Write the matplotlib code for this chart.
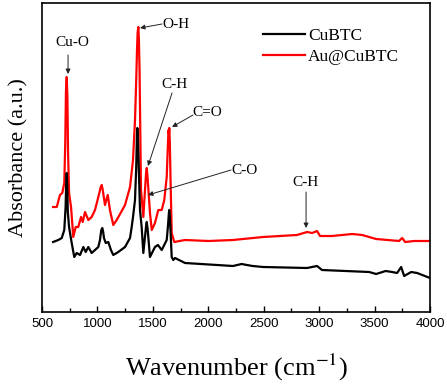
import matplotlib
matplotlib.use("Agg")
import matplotlib.pyplot as plt
from matplotlib.ticker import MultipleLocator

plt.rcParams['mathtext.fontset'] = 'stix'

# Au@CuBTC (red)
wn_red = [600, 633, 662, 683, 701, 710, 716, 723, 729, 735, 744, 762, 782, 804, 827, 852, 867, 888, 918,
          948, 978, 1008, 1030, 1039, 1048, 1068, 1093, 1113, 1143, 1174, 1249, 1294, 1321, 1339,
          1350, 1357, 1363, 1369, 1374, 1380, 1393, 1414, 1438, 1445, 1452, 1474, 1490, 1519, 1549, 1580, 1603, 1625,
          1636, 1641, 1645, 1648, 1653, 1660, 1670, 1693, 1790, 2000, 2223, 2494, 2800, 2891, 2936, 2960, 2981, 3008,
          3117, 3298, 3388, 3514, 3721, 3749, 3776, 3857, 4000]
abs_red = [105, 105, 117, 119, 129, 170, 220, 235, 215, 160, 119, 105, 75, 85, 85, 95, 90, 100, 92,
           95, 102, 115, 125, 127, 122, 107, 117, 102, 87, 92, 107, 125, 152, 192,
           232, 262, 280, 285, 272, 242, 122, 95, 138, 144, 135, 99, 82, 89, 102, 102, 112, 135,
           168, 182, 178, 184, 170, 130, 79, 70, 72, 71, 72, 75, 77, 80, 79, 80, 81, 76,
           76, 78, 77, 73, 71, 74, 70, 71, 71]

# CuBTC (black)
wn_blk = [600, 647, 678, 701, 713, 718, 723, 728, 733, 744, 768, 791, 813, 843, 873, 894, 918,
          948, 978, 1008, 1023, 1035, 1044, 1052, 1059, 1075, 1098, 1122, 1143, 1188, 1249, 1294,
          1309, 1321, 1339, 1350, 1356, 1360, 1365, 1371, 1384, 1399, 1414, 1440, 1445, 1452, 1474, 1519, 1546,
          1580, 1625, 1637, 1644, 1648, 1653, 1659, 1670, 1684, 1700, 1790, 2223, 2300, 2349, 2400, 2494, 2891,
          2981, 3026, 3451, 3514, 3600, 3658, 3703, 3740, 3767, 3830, 3884, 4000]
abs_blk = [70, 72, 74, 82, 105, 128, 139, 125, 100, 85, 69, 55, 59, 57, 65, 60, 65,
           59, 62, 65, 72, 82, 84, 80, 74, 69, 70, 62, 57, 60, 65, 74,
           85, 95, 112, 145, 176, 184, 176, 152, 102, 85, 59, 87, 90, 84, 55, 65, 67,
           62, 72, 87, 98, 102, 96, 82, 55, 52, 54, 49, 46, 48, 47, 46, 45, 44,
           46, 42, 40, 38, 41, 40, 39, 45, 36, 40, 39, 34]

labels = ["CuBTC", "Au@CuBTC"]
xticks = [500, 1000, 1500, 2000, 2500, 3000, 3500, 4000]

# annotation: text, text position, arrow start, arrow tip
annots = [
    ("Cu-O", (771, 270), (735, 257), (735, 238)),
    ("O-H", (1709, 288), (1583, 288), (1384, 284)),
    ("C-H", (1691, 227), (1673, 219), (1456, 146)),
    ("C=O", (1989, 199), (1862, 197), (1673, 185)),
    ("C-O", (2331, 141), (2205, 142), (1456, 117)),
    ("C-H", (2873, 130), (2882, 120), (2882, 84)),
]

serif = ['Liberation Serif', 'DejaVu Serif']
sans = ['Liberation Sans', 'DejaVu Sans']

fig = plt.figure(figsize=(4.47, 3.84), dpi=100)
ax = fig.add_axes([42/447, 1-312/384, 388/447, 309/384])

ax.plot(wn_blk, abs_blk, color='black', lw=1.6, label=labels[0], zorder=3)
ax.plot(wn_red, abs_red, color='#ff0000', lw=1.6, label=labels[1], zorder=2)

ax.set_xlim(500, 4000)
ax.set_ylim(0, 309)
ax.set_xticks(xticks)
ax.set_xticklabels([str(t) for t in xticks], family=sans, fontsize=9.5)
ax.xaxis.set_minor_locator(MultipleLocator(250))
ax.tick_params(axis='x', which='major', direction='in', length=4, width=1, pad=4)
ax.tick_params(axis='x', which='minor', direction='in', length=3, width=1)
ax.set_yticks([])
for s in ax.spines.values():
    s.set_linewidth(1.2)

ax.set_xlabel("Wavenumber (cm$^{-1}$)", family=serif, fontsize=19, labelpad=16)
ax.set_ylabel("Absorbance (a.u.)", family=serif, fontsize=16, labelpad=10)

for txt, tpos, a0, a1 in annots:
    ax.text(tpos[0], tpos[1], txt, family=serif, fontsize=11, ha='center', va='center')
    ax.annotate('', xy=a1, xytext=a0,
                arrowprops=dict(arrowstyle='-|>', color='#222222', lw=0.7,
                                mutation_scale=7, shrinkA=0, shrinkB=0))

leg = ax.legend(loc='upper left', bbox_to_anchor=(0.57, 0.92), frameon=False,
                prop={'family': serif, 'size': 12.5}, handlelength=2.4,
                handletextpad=0.2, labelspacing=0.3, borderpad=0, borderaxespad=0)
for l in leg.get_lines():
    l.set_linewidth(1.6)

fig.savefig("out.png", dpi=100)
